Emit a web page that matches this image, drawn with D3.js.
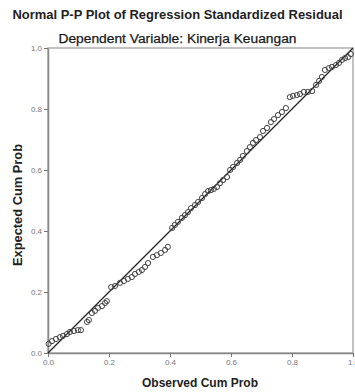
<!DOCTYPE html>
<html>
<head>
<meta charset="utf-8">
<script src="https://cdn.jsdelivr.net/npm/d3@7"></script>
<style>
  body { margin: 0; background: #fff; }
  svg { display: block; font-family: "Liberation Sans", Arial, sans-serif; }
</style>
</head>
<body>
<div id="chart"></div>
<script>
// observed cum prob (x) and expected cum prob (y)
const observed = [
  0.002, 0.013, 0.026, 0.039, 0.049, 0.062, 0.072, 0.085, 0.098, 0.108,
  0.128, 0.134, 0.144, 0.154, 0.164, 0.177, 0.187, 0.193,
  0.207, 0.220, 0.236, 0.249, 0.262, 0.275, 0.285, 0.298, 0.308, 0.318,
  0.328, 0.344, 0.357, 0.370, 0.384, 0.393,
  0.407, 0.416, 0.426, 0.439, 0.449, 0.459, 0.469, 0.482, 0.492, 0.505,
  0.515, 0.525, 0.534, 0.544, 0.554, 0.564, 0.574, 0.587, 0.597, 0.607,
  0.620, 0.630, 0.639, 0.652, 0.662, 0.672, 0.682, 0.695,
  0.705, 0.718, 0.731, 0.741, 0.754, 0.767, 0.780, 0.793, 0.803, 0.816,
  0.826, 0.839, 0.852, 0.866, 0.879, 0.889, 0.898, 0.908, 0.921, 0.931,
  0.944, 0.954, 0.964, 0.974, 0.984, 0.993
];
const expected = [
  0.030, 0.039, 0.046, 0.052, 0.056, 0.062, 0.069, 0.072, 0.075, 0.075,
  0.102, 0.108, 0.131, 0.138, 0.148, 0.154, 0.164, 0.170,
  0.216, 0.220, 0.230, 0.236, 0.243, 0.249, 0.259, 0.266, 0.272, 0.282,
  0.295, 0.315, 0.321, 0.328, 0.338, 0.348,
  0.410, 0.420, 0.430, 0.443, 0.452, 0.462, 0.475, 0.485, 0.495, 0.508,
  0.521, 0.531, 0.534, 0.538, 0.544, 0.557, 0.567, 0.577, 0.600, 0.610,
  0.623, 0.633, 0.646, 0.662, 0.675, 0.689, 0.698, 0.708,
  0.728, 0.738, 0.757, 0.767, 0.780, 0.790, 0.803, 0.839, 0.843, 0.846,
  0.849, 0.856, 0.856, 0.859, 0.879, 0.892, 0.905, 0.928, 0.934, 0.938,
  0.944, 0.951, 0.961, 0.967, 0.970, 0.980
];
const tickValues = [0, 0.2, 0.4, 0.6, 0.8, 1.0];
const diagonal = [0, 1];

const width = 355;
const height = 392;
const margin = { top: 48, right: 2, bottom: 39, left: 48 };

const points = observed.map((d, i) => [d, expected[i]]);

const x = d3.scaleLinear([0, 1], [margin.left, width - margin.right]);
const y = d3.scaleLinear([0, 1], [height - margin.bottom, margin.top]);

const svg = d3
  .select("#chart")
  .append("svg")
  .attr("width", width)
  .attr("height", height);

// titles
svg
  .append("text")
  .attr("x", 177.5)
  .attr("y", 19)
  .attr("text-anchor", "middle")
  .attr("font-size", 12.5)
  .attr("font-weight", "bold")
  .attr("fill", "#222")
  .attr("textLength", 330)
  .attr("lengthAdjust", "spacingAndGlyphs")
  .text("Normal P-P Plot of Regression Standardized Residual");

svg
  .append("text")
  .attr("x", 177.5)
  .attr("y", 43)
  .attr("text-anchor", "middle")
  .attr("font-size", 12.5)
  .attr("fill", "#1a1a1a")
  .attr("stroke", "#1a1a1a")
  .attr("stroke-width", 0.25)
  .attr("textLength", 238)
  .attr("lengthAdjust", "spacingAndGlyphs")
  .text("Dependent Variable: Kinerja Keuangan");

// frame
svg
  .append("rect")
  .attr("x", x(0))
  .attr("y", y(1))
  .attr("width", x(1) - x(0))
  .attr("height", y(0) - y(1))
  .attr("fill", "none")
  .attr("stroke", "#999")
  .attr("stroke-width", 1.2);

// axes
const styleAxis = (g) => {
  g.select(".domain").attr("stroke", "#888").attr("stroke-width", 1.5);
  g.selectAll(".tick line").attr("stroke", "#777");
  g.selectAll(".tick text").attr("fill", "#777").attr("font-size", 8);
};

svg
  .append("g")
  .attr("transform", `translate(0,${y(0)})`)
  .call(
    d3.axisBottom(x).tickValues(tickValues).tickFormat(d3.format(".1f"))
      .tickSize(4).tickSizeOuter(0).tickPadding(2),
  )
  .call(styleAxis);

svg
  .append("g")
  .attr("transform", `translate(${x(0)},0)`)
  .call(
    d3.axisLeft(y).tickValues(tickValues).tickFormat(d3.format(".1f"))
      .tickSize(4).tickSizeOuter(0).tickPadding(2),
  )
  .call(styleAxis);

// axis titles
svg
  .append("text")
  .attr("x", 200)
  .attr("y", 387)
  .attr("text-anchor", "middle")
  .attr("font-size", 12.5)
  .attr("font-weight", "bold")
  .attr("fill", "#222")
  .attr("textLength", 116)
  .attr("lengthAdjust", "spacingAndGlyphs")
  .text("Observed Cum Prob");

svg
  .append("text")
  .attr("transform", `translate(22,205) rotate(-90)`)
  .attr("text-anchor", "middle")
  .attr("font-size", 12.5)
  .attr("font-weight", "bold")
  .attr("fill", "#222")
  .attr("textLength", 122)
  .attr("lengthAdjust", "spacingAndGlyphs")
  .text("Expected Cum Prob");

// reference line
svg
  .append("line")
  .attr("x1", x(diagonal[0]))
  .attr("y1", y(diagonal[0]))
  .attr("x2", x(diagonal[1]))
  .attr("y2", y(diagonal[1]))
  .attr("stroke", "#222")
  .attr("stroke-width", 1.2);

// points
svg
  .append("g")
  .attr("fill", "none")
  .attr("stroke", "#444")
  .attr("stroke-width", 1)
  .selectAll("circle")
  .data(points)
  .join("circle")
  .attr("cx", (d) => x(d[0]))
  .attr("cy", (d) => y(d[1]))
  .attr("r", 2.6);
</script>
</body>
</html>
